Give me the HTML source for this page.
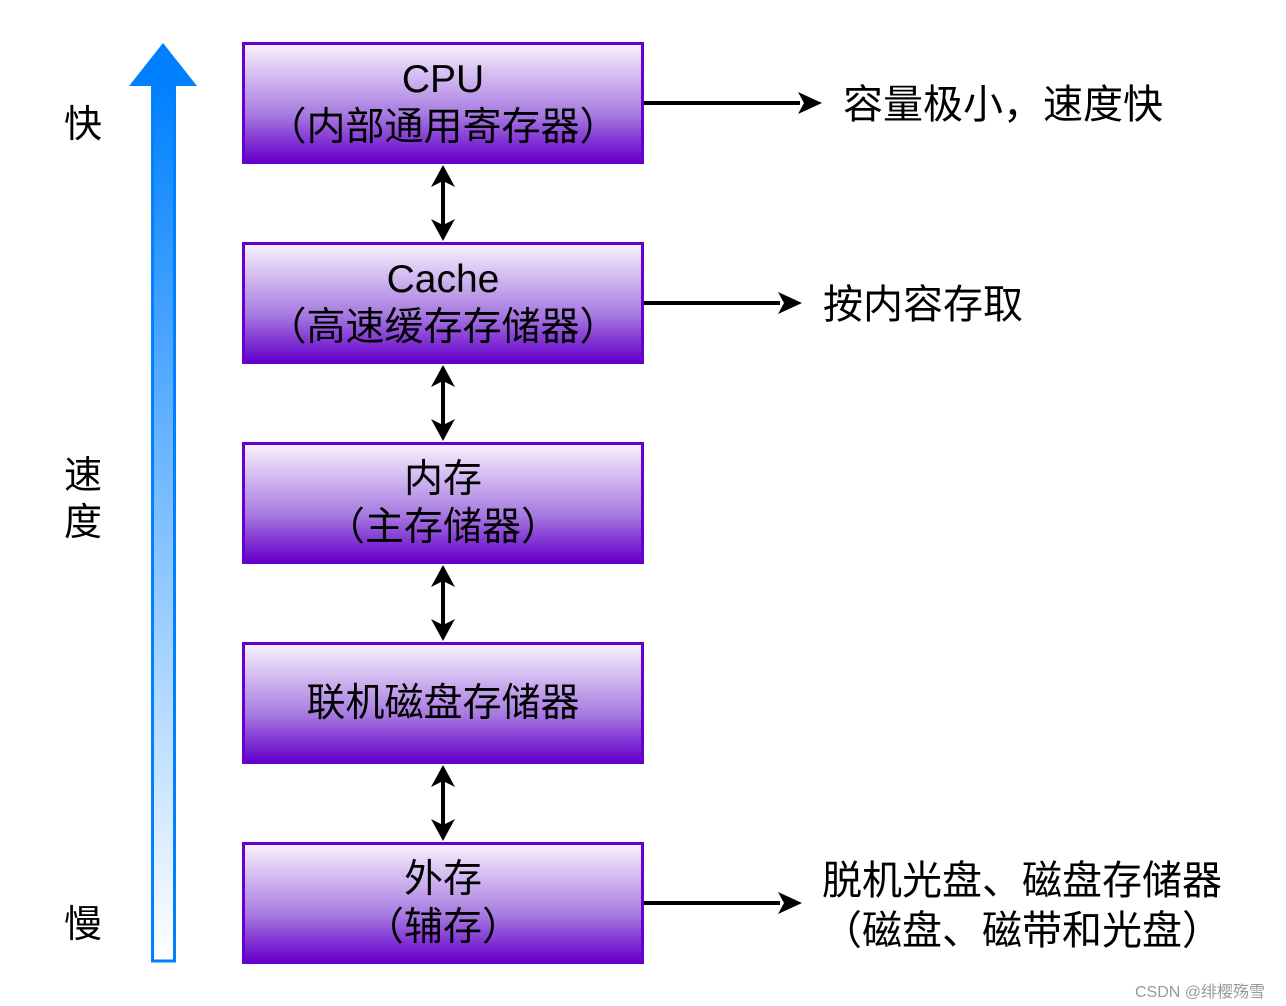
<!DOCTYPE html>
<html><head><meta charset="utf-8"><style>
body{margin:0;width:1286px;height:1006px;background:#fff;position:relative;overflow:hidden;font-family:"Liberation Sans","Noto Sans CJK SC",sans-serif;}
.b{position:absolute;left:242px;width:396px;border:3px solid #6600cc;background:linear-gradient(#f7f0fd,#a77ae0 60%,#6600cc);display:flex;flex-direction:column;justify-content:center;align-items:center;font-size:39px;line-height:48px;color:#000;padding-top:2px;box-sizing:content-box;height:114px;}
.t{position:absolute;font-size:38px;line-height:48px;color:#000;}
.r{position:absolute;font-size:40px;line-height:50px;color:#000;}
</style></head><body>
<div class="b" style="top:42px"><div>CPU</div><div>（内部通用寄存器）</div></div>
<div class="b" style="top:242px"><div>Cache</div><div>（高速缓存存储器）</div></div>
<div class="b" style="top:442px"><div>内存</div><div>（主存储器）</div></div>
<div class="b" style="top:642px"><div>联机磁盘存储器</div></div>
<div class="b" style="top:842px"><div>外存</div><div>（辅存）</div></div>
<svg width="1286" height="1006" style="position:absolute;left:0;top:0">
<defs><linearGradient id="g" x1="0" y1="0" x2="0" y2="1"><stop offset="0" stop-color="#0080ff"/><stop offset="1" stop-color="#ffffff"/></linearGradient></defs>
<rect x="152.5" y="84" width="22" height="877" fill="url(#g)" stroke="#0080ff" stroke-width="3"/>
<polygon points="163,43 197,86 129,86" fill="#0080ff"/>
<g stroke="#000" stroke-width="4" fill="#000">
<line x1="644" y1="103" x2="800" y2="103"/><polygon points="822,103 798,92 804,103 798,114" stroke="none"/>
<line x1="644" y1="303" x2="780" y2="303"/><polygon points="802,303 778,292 784,303 778,314" stroke="none"/>
<line x1="644" y1="903" x2="780" y2="903"/><polygon points="802,903 778,892 784,903 778,914" stroke="none"/>
</g>
<g stroke="#000" stroke-width="4">
<line x1="443" y1="180" x2="443" y2="226"/><line x1="443" y1="380" x2="443" y2="426"/><line x1="443" y1="580" x2="443" y2="626"/><line x1="443" y1="780" x2="443" y2="826"/>
</g>
<g fill="#000">
<polygon points="443,165 431,187 443,181 455,187"/><polygon points="443,241 431,219 443,225 455,219"/>
<polygon points="443,365 431,387 443,381 455,387"/><polygon points="443,441 431,419 443,425 455,419"/>
<polygon points="443,565 431,587 443,581 455,587"/><polygon points="443,641 431,619 443,625 455,619"/>
<polygon points="443,765 431,787 443,781 455,787"/><polygon points="443,841 431,819 443,825 455,819"/>
</g>
</svg>
<div class="t" style="left:64px;top:101px">快</div>
<div class="t" style="left:64px;top:452px">速</div>
<div class="t" style="left:64px;top:499px">度</div>
<div class="t" style="left:64px;top:901px">慢</div>
<div class="r" style="left:843px;top:80px">容量极小，速度快</div>
<div class="r" style="left:823px;top:280px">按内容存取</div>
<div class="r" style="left:812px;top:856px;width:420px;text-align:center">脱机光盘、磁盘存储器<br>（磁盘、磁带和光盘）</div>
<div style="position:absolute;left:1135px;top:978px;font-size:16px;color:#999">CSDN @绯樱殇雪</div>
</body></html>
